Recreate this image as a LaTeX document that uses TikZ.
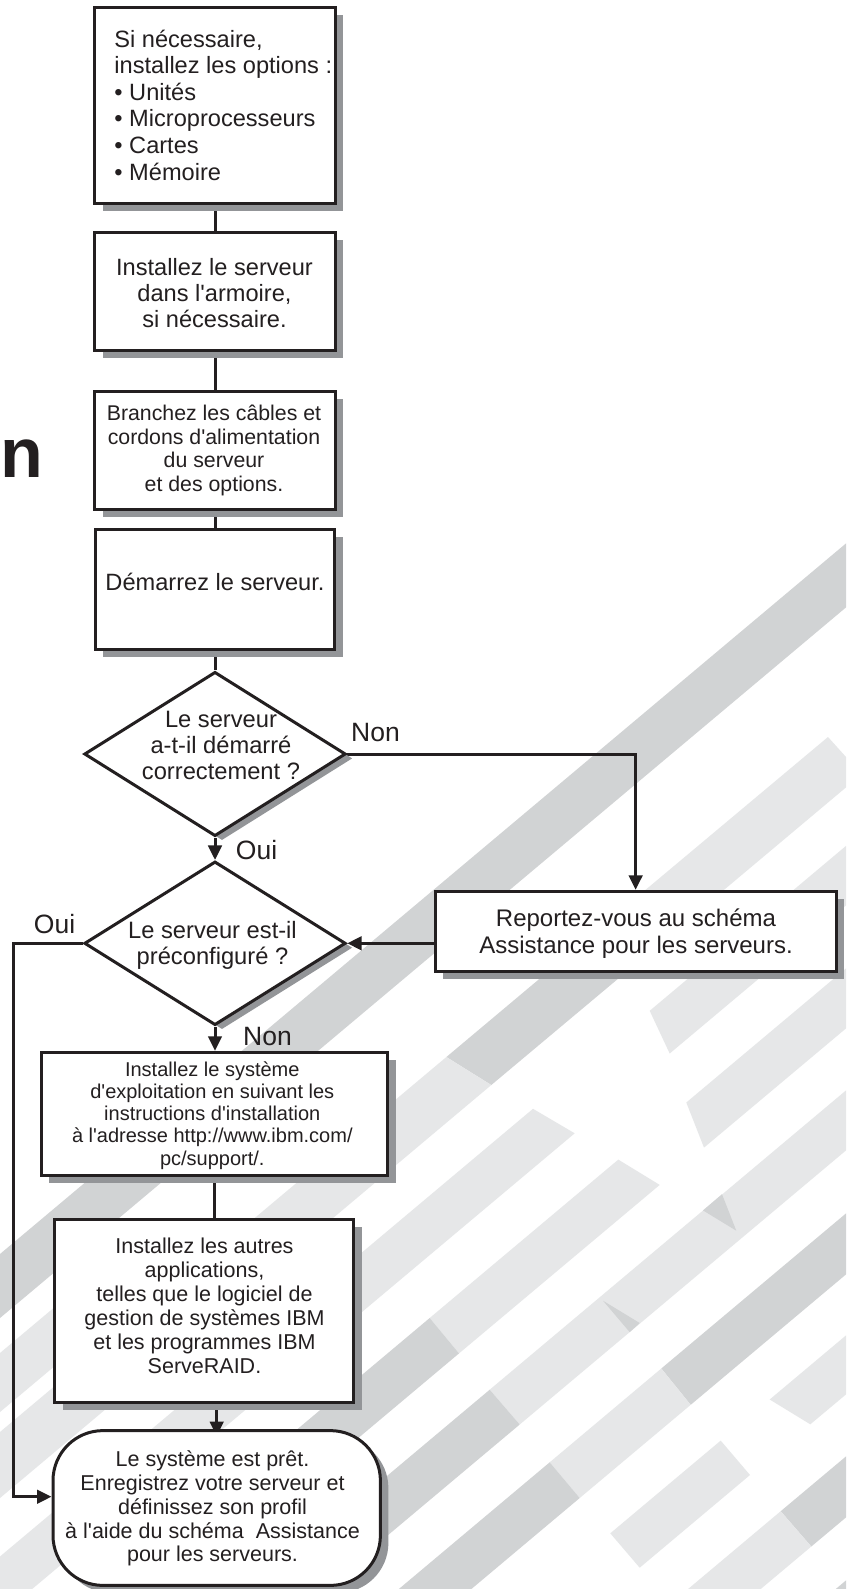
\documentclass[tikz,border=0pt]{standalone}
\usepackage{fontspec}
\setmainfont{Liberation Sans}[Ligatures=TeXOff]
\usetikzlibrary{shapes.geometric,arrows.meta,shadows}
\definecolor{ink}{HTML}{231F20}
\definecolor{shgray}{HTML}{939598}
\definecolor{bandD}{HTML}{D1D3D4}
\definecolor{bandL}{HTML}{E6E7E8}
\pgfdeclarelayer{bg}
\pgfdeclarelayer{conn}
\pgfsetlayers{bg,conn,main}
\begin{document}
\begin{tikzpicture}[x=1pt,y=-1pt,
  stepbox/.style={rectangle, draw=ink, line width=3pt, fill=white, inner sep=0pt,
    drop shadow={shadow xshift=8pt, shadow yshift=-7.5pt, fill=shgray, opacity=1}},
  termbox/.style={stepbox, rounded corners=50pt},
  decbox/.style={diamond, draw=ink, line width=3pt, fill=white, inner sep=0pt,
    drop shadow={shadow xshift=7pt, shadow yshift=-4.4pt, fill=shgray, opacity=1}},
  txt/.style={inner sep=0pt, text=ink},
  lbl/.style={inner sep=0pt, text=ink, anchor=base west, font=\fontsize{26.5}{30}\selectfont},
  link/.style={draw=ink, line width=3pt},
  arr/.style={-{Triangle[width=13.5pt,length=14.5pt]}}
]
\useasboundingbox (0,0) rectangle (846,1589);
\begin{pgfonlayer}{bg}
\fill[white] (0,0) rectangle (846,1589);
\clip (0,0) rectangle (846,1589);
% band A
\fill[bandD] (846,543.4) -- (846,607.4) -- (0,1318) -- (0,1254) -- cycle;
% left light band
\fill[bandL] (0,1353) -- (0,1412) -- (150,1286) -- (150,1227) -- cycle;
% band 1
\fill[bandL] (828,737) -- (861.6,774.3) -- (660,943.6) -- (600,928) -- cycle;
\fill[bandD] (600,928) -- (660,943.6) -- (491.3,1085) -- (446.4,1057) -- cycle;
\fill[bandL] (446.4,1057) -- (491.3,1085) -- (0,1498) -- (0,1432) -- cycle;
% band 2
\fill[bandL] (846,845.9) -- (846,905.4) -- (669.7,1053.5) -- (649.7,1010.8) -- cycle;
\fill[bandL] (533,1108.8) -- (574.7,1133.3) -- (0,1616) -- (0,1556.5) -- cycle;
% band 3
\fill[bandL] (846,968.4) -- (846,1028.4) -- (704,1147.6) -- (686.3,1102.5) -- cycle;
\fill[bandL] (618.3,1159.6) -- (659.7,1184.9) -- (459,1353.4) -- (429.7,1318) -- cycle;
\fill[bandD] (429.7,1318) -- (459,1353.4) -- (0,1739) -- (0,1679) -- cycle;
% band 4
\fill[bandL] (846,1090.4) -- (846,1150.4) -- (519.7,1424.5) -- (489.7,1389.7) -- cycle;
\fill[bandD] (489.7,1389.7) -- (519.7,1424.5) -- (0,1861) -- (0,1801) -- cycle;
\fill[bandD] (703,1210.4) -- (722,1194.2) -- (736.3,1230.7) -- cycle;
\fill[bandD] (603,1300.7) -- (639.7,1323) -- (629.7,1332.1) -- cycle;
% band 5
\fill[bandD] (846,1213.4) -- (846,1274.4) -- (690.7,1404.8) -- (661.3,1368.5) -- cycle;
\fill[bandL] (661.3,1368.5) -- (690.7,1404.8) -- (579.7,1498) -- (549.7,1462.3) -- cycle;
\fill[bandD] (549.7,1462.3) -- (579.7,1498) -- (0,1985) -- (0,1924) -- cycle;
% band 6
\fill[bandL] (846,1335.4) -- (846,1394.4) -- (810.3,1424.3) -- (769.7,1399.5) -- cycle;
\fill[bandL] (720.7,1440.6) -- (750,1475) -- (639.7,1567.7) -- (610.3,1533.3) -- cycle;
% band 7
\fill[bandD] (846,1456.4) -- (846,1517.4) -- (811.3,1546.5) -- (780.7,1511.2) -- cycle;
\fill[bandL] (780.7,1511.2) -- (811.3,1546.5) -- (600,1724) -- (600,1663) -- cycle;
% band 8
\fill[bandD] (846,1580.4) -- (846,1640.4) -- (760,1712.6) -- (760,1652.6) -- cycle;
\end{pgfonlayer}

% title fragment
\node[txt, anchor=base west, font=\fontsize{70}{70}\selectfont\bfseries] (ttl) at (0.5,477) {n};

% boxes
\node[stepbox, minimum width=240.4pt, minimum height=195.8pt] (b1) at (215,105.3) {};
\node[stepbox, minimum width=240.4pt, minimum height=118.1pt] (b2) at (215,291.25) {};
\node[stepbox, minimum width=240.4pt, minimum height=118.1pt] (b3) at (215,450.85) {};
\node[stepbox, minimum width=239.4pt, minimum height=120.1pt] (b4) at (215,589.35) {};
\node[decbox, minimum width=261.5pt, minimum height=164.3pt] (d1) at (215,754) {};
\node[decbox, minimum width=261.4pt, minimum height=163.7pt] (d2) at (215,943.3) {};
\node[stepbox, minimum width=400.7pt, minimum height=79.7pt] (rep) at (635.65,931.15) {};
\node[stepbox, minimum width=346.4pt, minimum height=123.1pt] (b5) at (214.5,1113.85) {};
\node[stepbox, minimum width=299.1pt, minimum height=183pt] (b6) at (204.15,1310.5) {};
\node[termbox, minimum width=327.4pt, minimum height=154.8pt] (term) at (216.7,1508) {};

% texts
\node[txt, align=left, font=\fontsize{23.6}{26.6}\selectfont] (t1) at (223.3,105)
  {Si nécessaire,\\installez les options :\\• Unités\\• Microprocesseurs\\• Cartes\\• Mémoire};
\node[txt, align=center, font=\fontsize{23.6}{26.25}\selectfont] (t2) at (214.5,293.3)
  {Installez le serveur\\dans l'armoire,\\si nécessaire.};
\node[txt, align=center, font=\fontsize{21.3}{23.67}\selectfont] (t3) at (214,450.6)
  {Branchez les câbles et\\cordons d'alimentation\\du serveur\\et des options.};
\node[txt, font=\fontsize{23.6}{26}\selectfont] (t4) at (215,582.1) {Démarrez le serveur.};
\node[txt, align=center, font=\fontsize{23.7}{26.2}\selectfont] (dt1) at (221,745.5)
  {Le serveur\\a-t-il démarré\\correctement ?};
\node[txt, align=center, font=\fontsize{23.7}{26}\selectfont] (dt2) at (212.5,945.3)
  {Le serveur est-il\\préconfiguré ?};
\node[txt, align=center, font=\fontsize{24}{26.7}\selectfont] (rt) at (636,933.6)
  {Reportez-vous au schéma\\Assistance pour les serveurs.};
\node[txt, align=center, font=\fontsize{20}{22.1}\selectfont] (t5) at (212.3,1115.5)
  {Installez le système\\d'exploitation en suivant les\\instructions d'installation\\à l'adresse http://www.ibm.com/\\pc/support/.};
\node[txt, align=center, font=\fontsize{21.5}{24}\selectfont] (t6) at (204.5,1305.3)
  {Installez les autres\\applications,\\telles que le logiciel de\\gestion de systèmes IBM\\et les programmes IBM\\ServeRAID.};
\node[txt, align=center, font=\fontsize{21.5}{23.75}\selectfont] (tt) at (212.5,1508.6)
  {Le système est prêt.\\Enregistrez votre serveur et\\définissez son profil\\à l'aide du schéma~ Assistance\\pour les serveurs.};

% labels
\node[lbl] (non1) at (351,741.3) {Non};
\node[lbl] (oui1) at (235.7,859.6) {Oui};
\node[lbl] (oui2) at (33.7,933.3) {Oui};
\node[lbl] (non2) at (243,1045) {Non};

% connectors
\coordinate (lc) at (13.3,1496.7);
\begin{pgfonlayer}{conn}
\draw[link] (b1.south) -- (b2.north);
\draw[link] (b2.south) -- (b3.north);
\draw[link] (b3.south) -- (b4.north);
\draw[link] (b4.south) -- (d1.north);
\draw[link, arr] (d1.south) -- (d2.north);
\draw[link, arr] (d2.south) -- (d2.south |- b5.north);
\draw[link] (b5.south) -- (b5.south |- b6.north);
\draw[link, arr, shorten >=-7pt] (b6.south -| term.north) -- (term.north);
\draw[link, arr] (d1.east) -| (rep.north);
\draw[link, arr] (rep.west |- d2.east) -- (d2.east);
\draw[link, arr] (d2.west) -| (lc) -- (term.west |- lc);
\end{pgfonlayer}
\end{tikzpicture}
\end{document}
